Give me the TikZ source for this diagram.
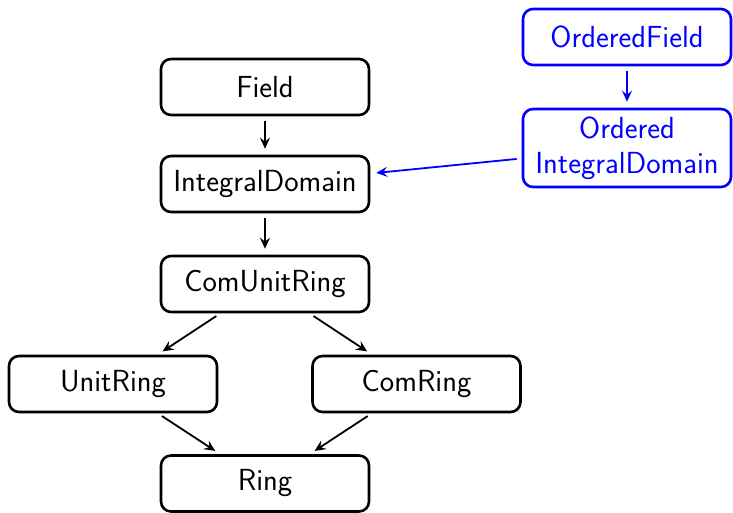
\documentclass[tikz,border=0pt]{standalone}
\usetikzlibrary{arrows.meta}
\begin{document}
\begin{tikzpicture}[x=1pt,y=-1pt,
  box/.style={draw, line width=2.6pt, rounded corners=10pt, minimum width=208pt, minimum height=56pt, inner sep=2pt, align=center, font=\sffamily\fontsize{30.5}{35}\selectfont},
  bbox/.style={box, draw=blue, text=blue},
  arr/.style={-{Stealth[length=11pt,width=10pt,inset=4pt]}, line width=1.8pt, shorten <=5pt, shorten >=6pt},
  barr/.style={arr, blue}]
\useasboundingbox (0,0) rectangle (733,513);
\node[box] (field) at (265,87) {Field};
\node[box] (id) at (265,184) {IntegralDomain};
\node[box] (cur) at (265,284) {ComUnitRing};
\node[box] (ur) at (113,384) {UnitRing};
\node[box] (cr) at (416.5,384) {ComRing};
\node[box] (ring) at (265,483.5) {Ring};
\node[bbox] (of) at (627,37) {OrderedField};
\node[bbox, minimum height=78pt] (oid) at (627,148) {Ordered\\IntegralDomain};
\draw[arr] (field) -- (id);
\draw[arr] (id) -- (cur);
\draw[arr] (cur) -- (ur);
\draw[arr] (cur) -- (cr);
\draw[arr] (ur) -- (ring);
\draw[arr] (cr) -- (ring);
\draw[barr] (of) -- (oid);
\draw[barr] (oid) -- (id);
\end{tikzpicture}
\end{document}
